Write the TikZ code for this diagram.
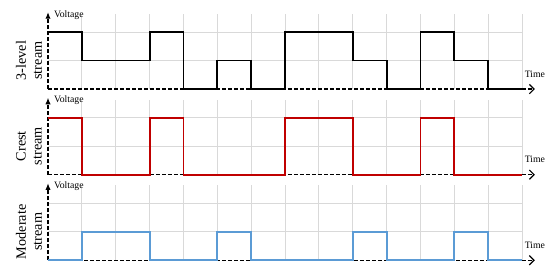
\documentclass[tikz,border=0pt]{standalone}
\usepackage{fontspec}
\setmainfont{Liberation Serif}
\usetikzlibrary{arrows.meta,positioning}

\definecolor{crestred}{RGB}{192,0,0}
\definecolor{modblue}{RGB}{91,155,213}
\definecolor{gridgray}{RGB}{217,217,217}

\begin{document}
\begin{tikzpicture}[x=25.4pt, y=21.4pt,
    grid/.style={draw=gridgray, line width=0.6pt},
    axis/.style={draw, dash pattern=on 3pt off 1.5pt, line width=0.9pt},
    wave/.style={line width=1.4pt},
    small/.style={font=\fontsize{7.3}{8}\selectfont, inner sep=1pt},
    streamlabel/.style={font=\fontsize{10.7}{12}\selectfont, rotate=90, align=center, inner sep=0pt}]
    \useasboundingbox (-1.418,-0.386) rectangle (14.826,9.123);

    \foreach \yo/\nm/\txt in {6/top/3-level\\stream, 3/mid/Crest\\stream, 0/bot/Moderate\\stream} {
        % grid
        \foreach \i in {1,...,14}
            \draw[grid] (\i,\yo) -- (\i,\yo+2.63);
        \foreach \j in {1,2}
            \draw[grid] (0,\yo+\j) -- (14,\yo+\j);
        % axes
        \coordinate (o-\nm) at (0,\yo);
        \coordinate (x-\nm) at (14.38,\yo);
        \coordinate (y-\nm) at (0,\yo+2.7);
        \draw[axis, -{Straight Barb[length=3.5pt, width=7pt, line width=0.9pt]}] (o-\nm) -- (x-\nm);
        \draw[axis, -{Latex[length=5pt, width=4pt]}] (o-\nm) -- (y-\nm);
        \node[small, anchor=west] (volt-\nm) at (0.13,\yo+2.6) {Voltage};
        \node[small] (time-\nm) at (14.38,\yo+0.53) {Time};
        \node[streamlabel] (name-\nm) at (-0.56,\yo+1) {\txt};
    }

    % waveforms
    \draw[wave, black] (0,8) -| (1,7) -| (3,8) -| (4,6) -| (5,7) -| (6,6) -| (7,8) -| (9,7)
        -| (10,6) -| (11,8) -| (12,7) -| (13,6) -- (14,6);
    \draw[wave, crestred] (0,5) -| (1,3) -| (3,5) -| (4,3) -| (7,5) -| (9,3) -| (11,5) -| (12,3) -- (14,3);
    \draw[wave, modblue] (0,0) -| (1,1) -| (3,0) -| (5,1) -| (6,0) -| (9,1) -| (10,0) -| (12,1) -| (13,0) -- (14,0);

\end{tikzpicture}
\end{document}
